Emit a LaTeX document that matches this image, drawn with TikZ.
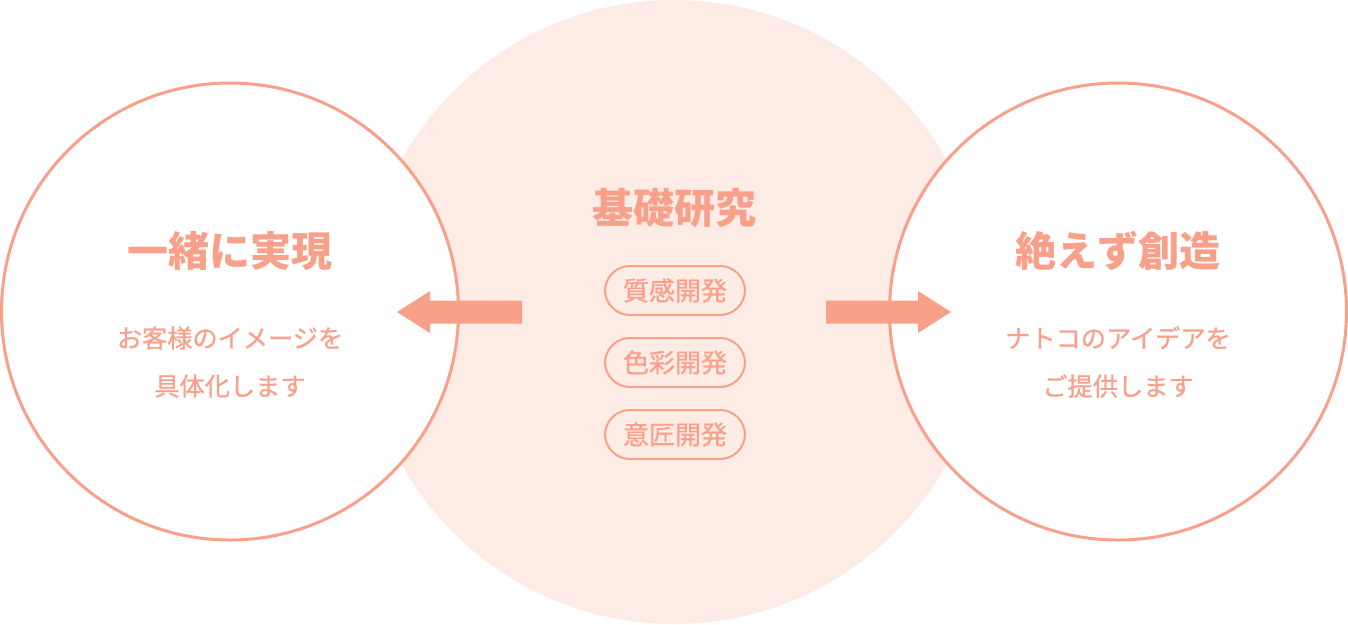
\documentclass[tikz,border=0pt]{standalone}
\usepackage{fontspec}
\setmainfont{Noto Sans CJK JP}
\newfontfamily\medfont{Noto Sans CJK JP}[FakeBold=0.8]
\definecolor{sal}{HTML}{F9A08A}
\definecolor{pale}{HTML}{FDEBE5}
\tikzset{
  ring/.style={draw=sal, line width=3pt, fill=white},
  titletext/.style={text=sal, font=\fontsize{41}{48}\selectfont\bfseries, inner sep=0pt},
  subtext/.style={text=sal, font=\medfont\fontsize{25.2}{48}\selectfont, align=center, inner sep=0pt},
  pill/.style={draw=sal, line width=2pt, rounded corners=25pt, minimum width=140pt, minimum height=49pt, text=sal, font=\medfont\fontsize{26}{30}\selectfont, inner sep=0pt},
  bigarrow/.style={fill=sal, draw=none}
}
\begin{document}
\begin{tikzpicture}[x=1pt,y=-1pt]
\useasboundingbox (0,0) rectangle (1348,624);
% central research circle
\coordinate (C) at (674,312);
\fill[pale] (C) circle (312);
% side circles
\coordinate (L) at (230,311.5);
\coordinate (R) at (1118,311.5);
\draw[ring] (L) circle (228.5);
\draw[ring] (R) circle (228.5);
% arrows
\fill[bigarrow] (522,300.5) -- (430,300.5) -- (430,291) -- (397,312) -- (430,333) -- (430,323.5) -- (522,323.5) -- cycle;
\fill[bigarrow] (826,300.5) -- (918,300.5) -- (918,291) -- (951,312) -- (918,333) -- (918,323.5) -- (826,323.5) -- cycle;
% centre texts
\node[titletext] (ct) at (674,208) {基礎研究};
\node[pill] (p1) at (675,290.5) {質感開発};
\node[pill] (p2) at (675,362.5) {色彩開発};
\node[pill] (p3) at (675,434.5) {意匠開発};
% left texts
\node[titletext] (lt) at (230,251) {一緒に実現};
\node[subtext] (ls) at (230,362) {お客様のイメージを\\具体化します};
% right texts
\node[titletext] (rt) at (1118,251) {絶えず創造};
\node[subtext] (rs) at (1118,362) {ナトコのアイデアを\\ご提供します};
\end{tikzpicture}
\end{document}
